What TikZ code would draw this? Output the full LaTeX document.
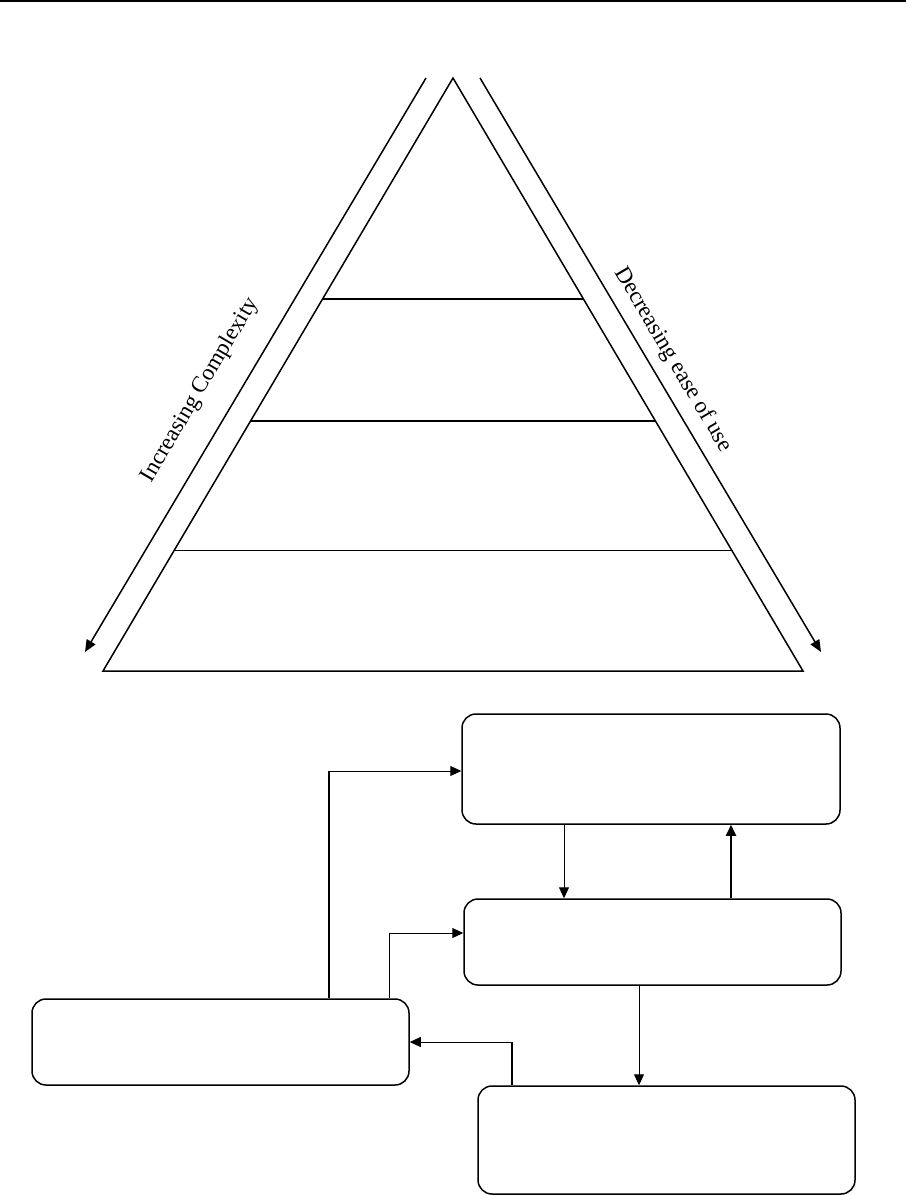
\documentclass[tikz,border=0pt]{standalone}
\usepackage{fontspec}
\setmainfont{Liberation Serif}
\usetikzlibrary{arrows.meta,calc}
\tikzset{
  tri/.style={line width=1.5pt, line join=miter},
  arr/.style={line width=1pt, -{Triangle[length=11pt,width=10pt]}},
  tharr/.style={line width=1.8pt, -{Triangle[length=11pt,width=10pt]}},
  thick line/.style={line width=1.8pt},
  longarr/.style={line width=1.5pt, -{Triangle[length=12pt,width=10pt]}},
  box/.style={draw, line width=1.5pt, rounded corners=14pt, inner sep=0pt},
  lbl/.style={font=\fontsize{23}{27}\selectfont, inner sep=0pt}
}
\begin{document}
\begin{tikzpicture}[x=1pt,y=-1pt]
\useasboundingbox (0,0) rectangle (906,1195);
\draw[line width=2.2pt] (0,1) -- (906,1);
% pyramid
\coordinate (apex) at (453,78);
\coordinate (bl) at (103,671);
\coordinate (br) at (803,671);
\draw[tri] (apex) -- (bl) -- (br) -- cycle;
\draw[tri] ($(apex)!0.3727!(bl)$) -- ($(apex)!0.3727!(br)$);
\draw[tri] ($(apex)!0.5784!(bl)$) -- ($(apex)!0.5784!(br)$);
\draw[line width=1pt] ($(apex)!0.7976!(bl)$) -- ($(apex)!0.7976!(br)$);
% side arrows
\coordinate (la1) at (426,78);
\coordinate (la2) at (85,652);
\coordinate (ra1) at (480,78);
\coordinate (ra2) at (821,652);
\draw[longarr] (la1) -- (la2);
\draw[longarr] (ra1) -- (ra2);
\node[lbl, rotate=59.4] (inc) at (200,390) {Increasing Complexity};
\node[lbl, rotate=-59.4] (dec) at (673,360) {Decreasing ease of use};
% boxes
\node[box, minimum width=378pt, minimum height=110pt] (b1) at (651,769) {};
\node[box, minimum width=377pt, minimum height=86pt] (b2) at (652.5,942) {};
\node[box, minimum width=377pt, minimum height=86pt] (b3) at (220.5,1042) {};
\node[box, minimum width=377pt, minimum height=108pt] (b4) at (666.5,1140) {};
% connectors
\coordinate (s1) at ([xshift=108.5pt]b3.north);
\coordinate (t1) at ([yshift=-2pt]b1.west);
\coordinate (k1) at (s1 |- t1);
\draw[thick line] (s1) -- (k1);
\draw[arr] (k1) -- (t1);
\draw[arr] ([xshift=168.5pt]b3.north) |- ([yshift=9pt]b2.west);
\draw[arr] ([xshift=-87pt]b1.south) -- ([xshift=-87pt]b1.south |- b2.north);
\draw[tharr] ([xshift=78.5pt]b2.north) -- ([xshift=78.5pt]b2.north |- b1.south);
\draw[arr] ([xshift=-13.5pt]b2.south) -- ([xshift=-13.5pt]b2.south |- b4.north);
\coordinate (s6) at ([xshift=-154.5pt]b4.north);
\coordinate (k6) at (s6 |- b3.east);
\draw[thick line] (s6) -- (k6);
\draw[arr] (k6) -- (b3.east);
\end{tikzpicture}
\end{document}
